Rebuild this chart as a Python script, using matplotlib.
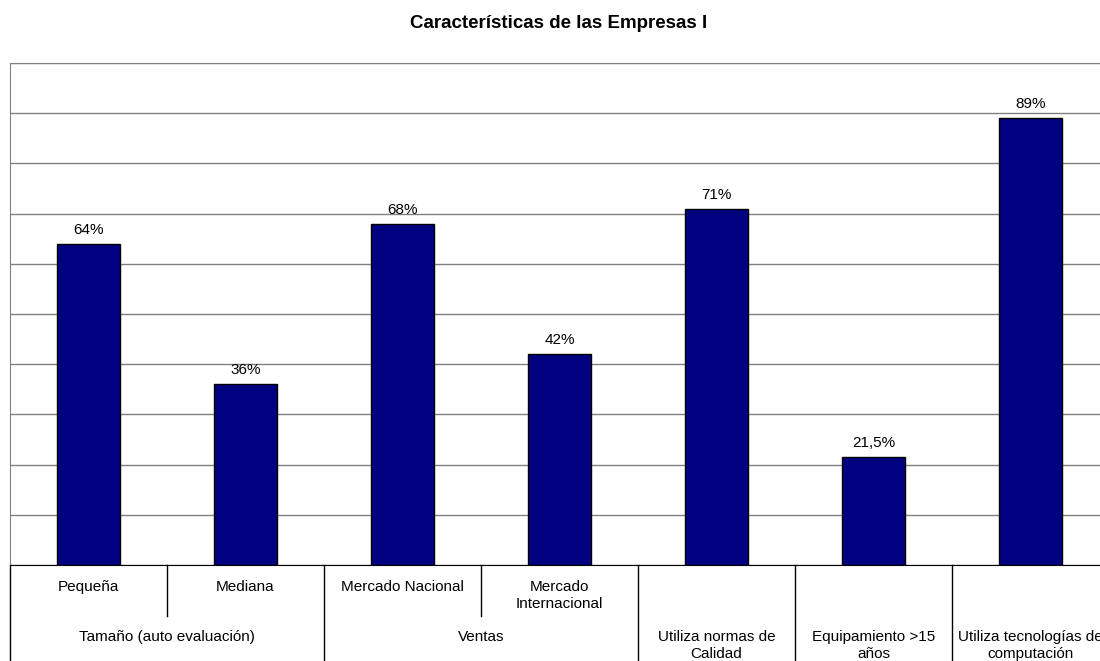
import matplotlib
matplotlib.use("Agg")
import matplotlib.pyplot as plt
import matplotlib.transforms as mtransforms

plt.rcParams['font.family'] = ['Liberation Sans', 'DejaVu Sans']

# datos
categorias = ["Pequeña", "Mediana", "Mercado Nacional", "Mercado\nInternacional",
              "", "", ""]
grupos = ["Tamaño (auto evaluación)", "Ventas", "Utiliza normas de\nCalidad",
          "Equipamiento >15\naños", "Utiliza tecnologías de\ncomputación"]
grupo_inicio = [0, 2, 4, 5, 6]
grupo_fin = [2, 4, 5, 6, 7]
valores = [64, 36, 68, 42, 71, 21.5, 89]
etiquetas = ["64%", "36%", "68%", "42%", "71%", "21,5%", "89%"]

W, H = 1100, 661
fig = plt.figure(figsize=(11, 6.61), dpi=100)
ax = fig.add_axes([10 / W, (H - 565) / H, 7 * 157 / W, 502 / H])

x = list(range(len(valores)))
ax.bar(x, valores, width=0.4, color="#000080", edgecolor="black", linewidth=1, zorder=3)
for xi, v, t in zip(x, valores, etiquetas):
    ax.annotate(t, (xi, v), xytext=(0, 5), textcoords="offset points",
                ha="center", va="bottom", fontsize=11)

ax.set_xlim(-0.5, 6.5)
ax.set_ylim(0, 100)
ax.set_yticks(range(0, 101, 10))
ax.yaxis.grid(True, color="#808080", linewidth=1, zorder=0)
ax.tick_params(left=False, bottom=False, labelleft=False, labelbottom=False)
ax.spines["right"].set_visible(False)
ax.spines["top"].set_color("#808080")
ax.spines["left"].set_color("#808080")
ax.spines["bottom"].set_color("black")

# tabla de categorias debajo del eje
tr = mtransforms.blended_transform_factory(ax.transData, ax.transAxes)
px = 1 / 502  # un pixel en coordenadas del eje
y_fila1 = -15 * px
y_fila2 = -65 * px
y_corte = -51 * px
y_fondo = -100 * px

ax.plot([-0.5, -0.5], [0, y_fondo], color="black", lw=1, transform=tr, clip_on=False)
for s, e in zip(grupo_inicio, grupo_fin):
    ax.plot([e - 0.5, e - 0.5], [0, y_fondo], color="black", lw=1, transform=tr, clip_on=False)
    for k in range(s + 1, e):
        ax.plot([k - 0.5, k - 0.5], [0, y_corte], color="black", lw=1,
                transform=tr, clip_on=False)

for xi, c in zip(x, categorias):
    if c:
        ax.text(xi, y_fila1, c, ha="center", va="top", fontsize=11,
                transform=tr, linespacing=1.25)
for s, e, g in zip(grupo_inicio, grupo_fin, grupos):
    ax.text((s + e - 1) / 2, y_fila2, g, ha="center", va="top", fontsize=11,
            transform=tr, linespacing=1.25)

fig.text(559 / W, 1 - 23 / H, "Características de las Empresas I", ha="center", va="center",
         fontsize=13.5, fontweight="bold")

fig.savefig("out.png", dpi=100)
